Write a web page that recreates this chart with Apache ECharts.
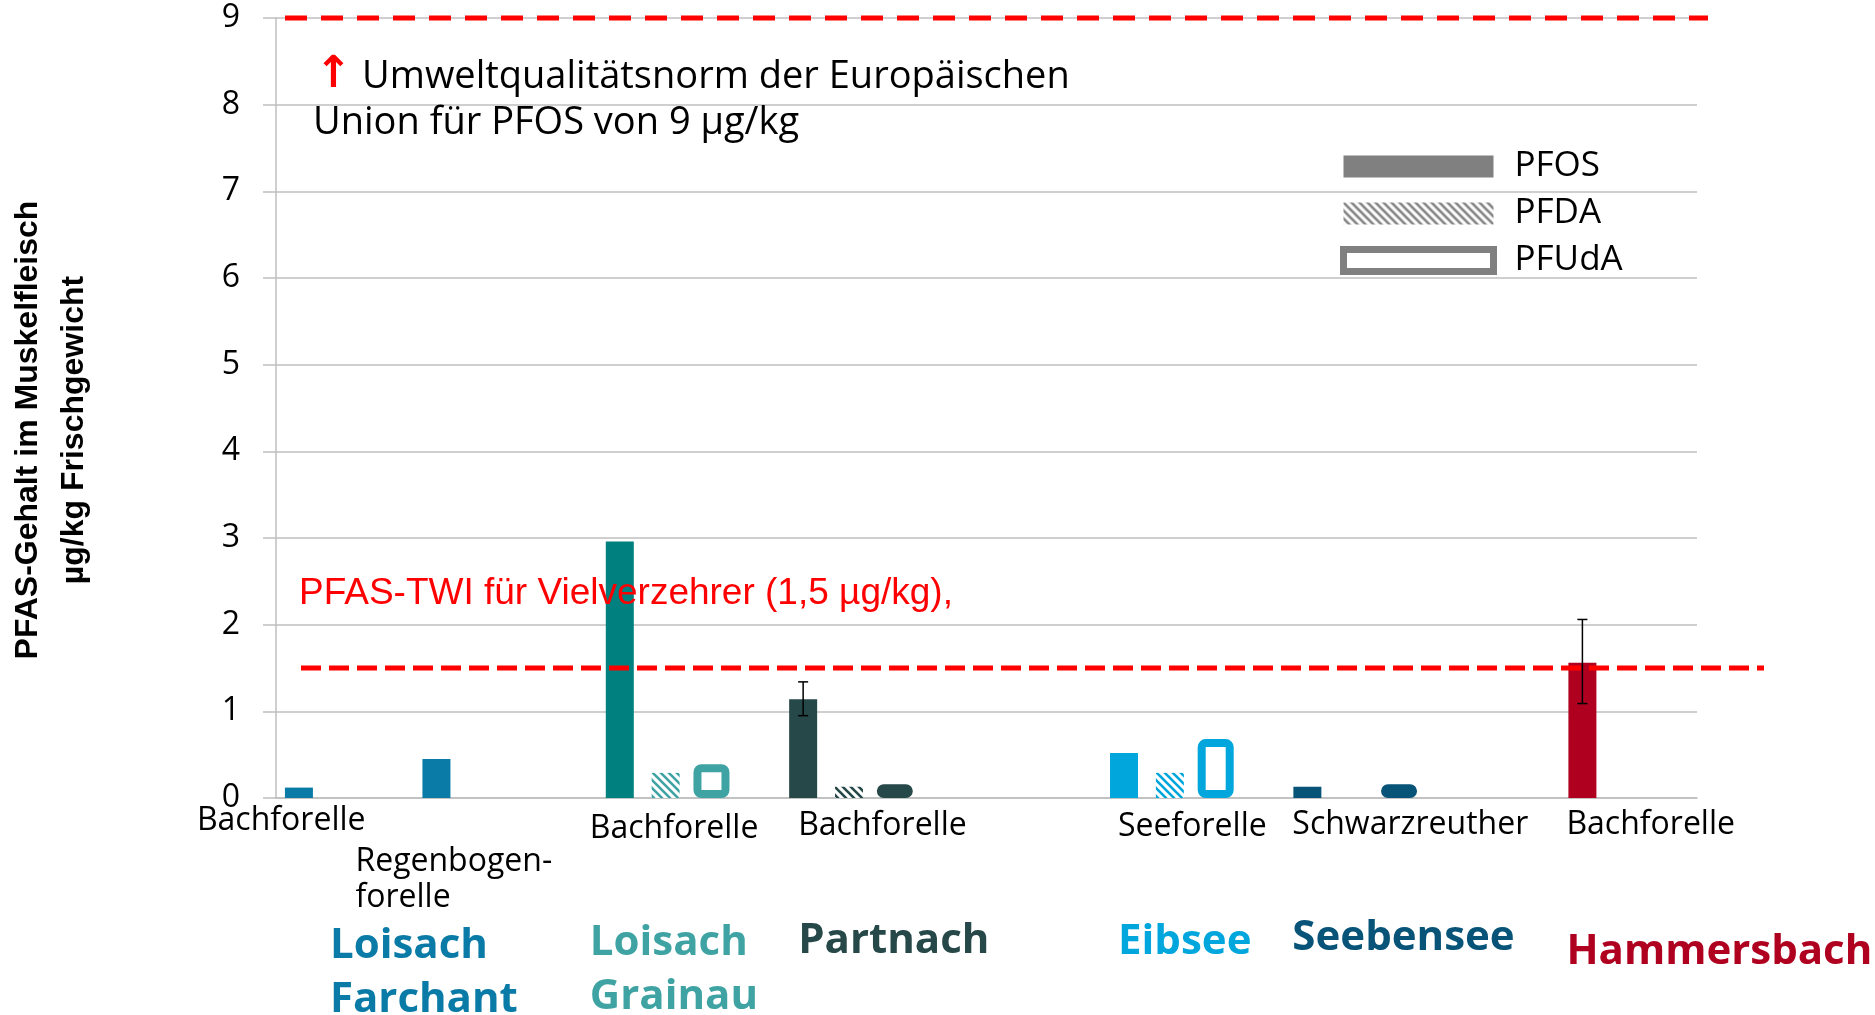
<!DOCTYPE html>
<html>
<head>
<meta charset="utf-8">
<title>PFAS-Gehalt im Muskelfleisch</title>
<script src="https://cdn.jsdelivr.net/npm/echarts@6.0.0/dist/echarts.min.js"></script>
<style>
  html, body { margin: 0; padding: 0; background: #fff; }
  #pfaschart { width: 1875px; height: 1015px; }
</style>
</head>
<body>
<div id="pfaschart"></div>
<script>
// fish samples, left to right
var species = ['Bachforelle', 'Regenbogen-\nforelle', 'Bachforelle', 'Bachforelle', 'Seeforelle', 'Schwarzreuther', 'Bachforelle'];
var waters = ['Loisach\nFarchant', 'Loisach\nGrainau', 'Partnach', 'Eibsee', 'Seebensee', 'Hammersbach'];
var waterOfSample = [0, 0, 1, 2, 3, 4, 5];

// µg/kg Frischgewicht, null = no bar
var pfos  = [0.12, 0.45, 2.96, 1.14, 0.52, 0.13, 1.56];
var pfda  = [null, null, 0.29, 0.13, 0.29, null, null];
var pfuda = [null, null, 0.39, 0.16, 0.68, 0.16, null];
var pfosLow  = [null, null, null, 0.95, null, null, 1.09];
var pfosHigh = [null, null, null, 1.34, null, null, 2.06];

var yTicks = [0, 1, 2, 3, 4, 5, 6, 7, 8, 9];
var twiLimit = 1.5;   // PFAS-TWI Vielverzehrer
var eqsLimit = 9;     // UQN der EU fuer PFOS

// layout: every bar sits in its own slot of the category axis
var slotCount = 31;
var sampleSlot = [0, 3, 7, 11, 18, 22, 28];
var speciesDx = [-88, -67, -16, 9, 8, -1, -2];
var speciesY = [821, 880, 829, 826, 827, 825, 825];
var waterDx = [45, -16, 9, 8, -1, -2];
var waterY = [973, 970, 941, 942, 938, 952];
var waterColor = ['#0a7aa6', '#3fa3a3', '#264848', '#00a6dc', '#085478', '#b0001f'];
var pfosColor = ['#0a7aa6', '#0a7aa6', '#00807f', '#264848', '#00a6dc', '#085478', '#b0001f'];
var barW = 28;

function hatch(color) {
    var c = document.createElement('canvas');
    c.width = 8; c.height = 8;
    var ctx = c.getContext('2d');
    ctx.fillStyle = '#fff';
    ctx.fillRect(0, 0, 8, 8);
    ctx.strokeStyle = color;
    ctx.lineWidth = 2.6;
    ctx.beginPath();
    ctx.moveTo(-2, -2); ctx.lineTo(10, 10);
    ctx.moveTo(-2, 6); ctx.lineTo(2, 10);
    ctx.moveTo(6, -2); ctx.lineTo(10, 2);
    ctx.stroke();
    return { image: c, repeat: 'repeat' };
}

function emptySlots() {
    var a = [];
    for (var i = 0; i < slotCount; i++) a.push('-');
    return a;
}

var slotNames = [];
for (var s = 0; s < slotCount; s++) slotNames.push(String(s));

var pfosData = emptySlots(), pfdaData = emptySlots(), pfudaData = emptySlots(), errData = [];
species.forEach(function (name, i) {
    var w = waterOfSample[i];
    var k = sampleSlot[i];
    if (pfos[i] != null) pfosData[k] = { value: pfos[i], itemStyle: { color: pfosColor[i] } };
    if (pfda[i] != null) pfdaData[k + 1] = { value: pfda[i], itemStyle: { color: hatch(waterColor[w]) } };
    if (pfuda[i] != null) pfudaData[k + 2] = { value: pfuda[i], itemStyle: { borderColor: waterColor[w] } };
    if (pfosLow[i] != null) errData.push([k, pfosLow[i], pfosHigh[i]]);
});

var chartDom = document.getElementById('pfaschart');
var myChart = echarts.init(chartDom);
var option;

option = {
    animation: false,
    grid: { left: 276, right: 178, top: 18, bottom: 217, containLabel: false },
    legend: {
        data: [
            { name: 'PFOS', itemStyle: { color: '#808080' } },
            { name: 'PFDA', itemStyle: { color: hatch('#808080') } },
            { name: 'PFUdA', itemStyle: { color: '#fff', borderColor: '#808080', borderWidth: 7 } }
        ],
        orient: 'vertical',
        left: 1340,
        top: 149,
        padding: 0,
        icon: 'rect',
        itemWidth: 150,
        itemHeight: 22,
        itemGap: 12,
        selectedMode: false,
        textStyle: { fontFamily: 'Open Sans', fontSize: 35, lineHeight: 22, color: '#000', padding: [0, 0, 0, 16] }
    },
    xAxis: [
        {
            type: 'category',
            data: slotNames,
            axisLine: { lineStyle: { color: '#bfbfbf', width: 1.5 } },
            axisTick: { show: false },
            axisLabel: { show: false }
        },
        {
            // twin axis so the outlined bars get their own width
            type: 'category',
            data: slotNames,
            show: false
        }
    ],
    yAxis: {
        type: 'value',
        min: yTicks[0],
        max: yTicks[yTicks.length - 1],
        interval: 1,
        axisLine: { show: true, lineStyle: { color: '#bfbfbf', width: 1.5 } },
        axisTick: { show: true, length: 13, lineStyle: { color: '#bfbfbf', width: 1.5 } },
        axisLabel: { margin: 36, fontFamily: 'Open Sans', fontSize: 32, color: '#000' },
        splitLine: { lineStyle: { color: '#bfbfbf', width: 1.5 } }
    },
    series: [
        {
            name: 'PFOS', type: 'bar', barWidth: barW, barGap: '-100%',
            itemStyle: { color: '#808080' },
            data: pfosData
        },
        {
            name: 'PFDA', type: 'bar', barWidth: barW, barGap: '-100%',
            itemStyle: { color: hatch('#808080') },
            data: pfdaData
        },
        {
            name: 'PFUdA', type: 'bar', xAxisIndex: 1, barWidth: 36,
            itemStyle: { color: '#fff', borderColor: '#808080', borderWidth: 8, borderRadius: 4 },
            data: pfudaData
        },
        {
            name: 'Streuung', type: 'custom', z: 5,
            renderItem: function (params, api) {
                var lo = api.coord([api.value(0), api.value(1)]);
                var hi = api.coord([api.value(0), api.value(2)]);
                var st = { stroke: '#000', lineWidth: 1.5 };
                return {
                    type: 'group',
                    children: [
                        { type: 'line', shape: { x1: lo[0], y1: lo[1], x2: hi[0], y2: hi[1] }, style: st },
                        { type: 'line', shape: { x1: lo[0] - 5, y1: lo[1], x2: lo[0] + 5, y2: lo[1] }, style: st },
                        { type: 'line', shape: { x1: hi[0] - 5, y1: hi[1], x2: hi[0] + 5, y2: hi[1] }, style: st }
                    ]
                };
            },
            data: errData
        }
    ]
};

option && myChart.setOption(option);

// labels and limit lines, placed through the chart's own scales
var px = function (slot, v) { return myChart.convertToPixel({ gridIndex: 0 }, [slot, v]); };
var g = [];

species.forEach(function (name, i) {
    var left = px(sampleSlot[i], 0)[0] - barW / 2 + speciesDx[i];
    g.push({
        type: 'text', z: 100,
        style: {
            text: name, x: left, y: speciesY[i], fill: '#000',
            font: '32px "Open Sans"', lineHeight: 36,
            align: 'left', verticalAlign: 'middle', textAlign: 'left', textVerticalAlign: 'middle'
        }
    });
});

waters.forEach(function (name, w) {
    var first = waterOfSample.indexOf(w);
    var left = px(sampleSlot[first], 0)[0] - barW / 2 + waterDx[w];
    g.push({
        type: 'text', z: 100,
        style: {
            text: name, x: left, y: waterY[w], fill: waterColor[w],
            font: 'bold 42px "Open Sans"', lineHeight: 54,
            align: 'left', verticalAlign: 'middle', textAlign: 'left', textVerticalAlign: 'middle'
        }
    });
});

var yEqs = px(0, eqsLimit)[1];
var yTwi = px(0, twiLimit)[1];
g.push({
    type: 'line', z: 100,
    shape: { x1: 285, y1: yEqs, x2: 1708, y2: yEqs },
    style: { stroke: '#ff0000', lineWidth: 5, lineDash: [22, 14] }
});
g.push({
    type: 'line', z: 100,
    shape: { x1: 301, y1: yTwi, x2: 1764, y2: yTwi },
    style: { stroke: '#ff0000', lineWidth: 5, lineDash: [20, 8] }
});

g.push({
    type: 'text', z: 100,
    style: {
        text: '↑', x: 315, y: 76, fill: '#ff0000', font: 'bold 44px "DejaVu Sans"',
        align: 'left', verticalAlign: 'middle', textAlign: 'left', textVerticalAlign: 'middle'
    }
});
g.push({
    type: 'text', z: 100,
    style: {
        text: 'Umweltqualitätsnorm der Europäischen', x: 362, y: 77, fill: '#000',
        font: '38px "Open Sans"',
        align: 'left', verticalAlign: 'middle', textAlign: 'left', textVerticalAlign: 'middle'
    }
});
g.push({
    type: 'text', z: 100,
    style: {
        text: 'Union für PFOS von 9 µg/kg', x: 313, y: 123, fill: '#000',
        font: '38px "Open Sans"',
        align: 'left', verticalAlign: 'middle', textAlign: 'left', textVerticalAlign: 'middle'
    }
});
g.push({
    type: 'text', z: 100,
    style: {
        text: 'PFAS-TWI für Vielverzehrer (1,5 µg/kg),', x: 299, y: 594, fill: '#ff0000',
        font: '37px "Liberation Sans"',
        align: 'left', verticalAlign: 'middle', textAlign: 'left', textVerticalAlign: 'middle'
    }
});
g.push({
    type: 'text', z: 100, x: 51, y: 430, rotation: Math.PI / 2,
    style: {
        text: 'PFAS-Gehalt im Muskelfleisch\nµg/kg Frischgewicht', x: 0, y: 0, fill: '#000',
        font: 'bold 32px "Liberation Sans"', lineHeight: 46,
        align: 'center', verticalAlign: 'middle', textAlign: 'center', textVerticalAlign: 'middle'
    }
});

myChart.setOption({ graphic: { elements: g } });
</script>
</body>
</html>
